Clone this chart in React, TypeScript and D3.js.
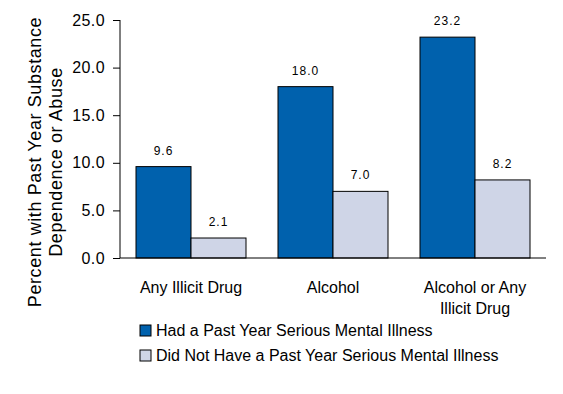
import { useRef, useEffect } from 'react';
import * as d3 from 'd3';

const categories = ['Any Illicit Drug', 'Alcohol', 'Alcohol or Any Illicit Drug'];
const categoryLines = [['Any Illicit Drug'], ['Alcohol'], ['Alcohol or Any', 'Illicit Drug']];
const seriesNames = ['Had a Past Year Serious Mental Illness', 'Did Not Have a Past Year Serious Mental Illness'];
const withSMI = [9.6, 18.0, 23.2];
const withoutSMI = [2.1, 7.0, 8.2];
const yTicks = [0, 5, 10, 15, 20, 25];
const colors = ['#0061AD', '#CFD5E7'];

export default function App() {
  const svgRef = useRef<SVGSVGElement | null>(null);

  useEffect(() => {
    const width = 563, height = 394;
    const margin = { top: 20, right: 17, bottom: 136, left: 120 };
    const innerWidth = width - margin.left - margin.right;
    const innerHeight = height - margin.top - margin.bottom;
    const font = 'Arial, "Liberation Sans", sans-serif';

    d3.select(svgRef.current).selectAll('*').remove();
    const svg = d3.select(svgRef.current)
      .attr('width', width)
      .attr('height', height)
      .style('display', 'block')
      .style('position', 'absolute')
      .style('left', '0px')
      .style('top', '0px')
      .style('background', '#fff');

    const g = svg.append('g')
      .attr('transform', `translate(${margin.left},${margin.top})`);

    const x0 = d3.scaleBand<string>().domain(categories).range([0, innerWidth]);
    const x1 = d3.scaleBand<string>().domain(['a', 'b']).range([16, x0.bandwidth() - 16]);
    const y = d3.scaleLinear().domain([0, 25]).range([innerHeight, 0]);

    // bars + value labels
    const series = [withSMI, withoutSMI];
    categories.forEach((c, i) => {
      series.forEach((vals, j) => {
        const bx = (x0(c) || 0) + (x1(j === 0 ? 'a' : 'b') || 0);
        const bw = x1.bandwidth();
        g.append('rect')
          .attr('x', bx)
          .attr('y', y(vals[i]))
          .attr('width', bw)
          .attr('height', innerHeight - y(vals[i]))
          .attr('fill', colors[j])
          .attr('stroke', '#000')
          .attr('stroke-width', 1);
        g.append('text')
          .attr('x', bx + bw / 2)
          .attr('y', y(vals[i]) - 12)
          .attr('text-anchor', 'middle')
          .style('font-family', font)
          .style('font-size', '12px')
          .style('letter-spacing', '1px')
          .text(vals[i].toFixed(1));
      });
    });

    // y axis
    const yAxis = d3.axisLeft(y).tickValues(yTicks).tickFormat(d => (+d).toFixed(1)).tickSize(7).tickPadding(8);
    const ya = g.append('g').call(yAxis);
    ya.selectAll('text').style('font-family', font).style('font-size', '16px').style('letter-spacing', '0.4px').attr('fill', '#000');
    ya.selectAll('line').attr('stroke', '#000');
    ya.select('.domain').attr('stroke', '#000').attr('d', `M0,0V${innerHeight}`);

    // x axis line (no ticks)
    g.append('line')
      .attr('x1', 0).attr('x2', innerWidth)
      .attr('y1', innerHeight).attr('y2', innerHeight)
      .attr('stroke', '#000');

    // category labels
    categories.forEach((c, i) => {
      categoryLines[i].forEach((line, k) => {
        g.append('text')
          .attr('x', (x0(c) || 0) + x0.bandwidth() / 2)
          .attr('y', innerHeight + 35 + k * 21)
          .attr('text-anchor', 'middle')
          .style('font-family', font)
          .style('font-size', '16px')
          .text(line);
      });
    });

    // y title
    const title = ['Percent with Past Year Substance', 'Dependence or Abuse'];
    title.forEach((t, k) => {
      svg.append('text')
        .attr('transform', `translate(${41 + k * 21},162) rotate(-90)`)
        .attr('text-anchor', 'middle')
        .style('font-family', font)
        .style('font-size', '18px')
        .style('letter-spacing', '0.6px')
        .text(t);
    });

    // legend
    seriesNames.forEach((name, j) => {
      const ly = 325 + j * 25;
      svg.append('rect')
        .attr('x', 140).attr('y', ly)
        .attr('width', 11).attr('height', 11)
        .attr('fill', colors[j])
        .attr('stroke', '#000');
      svg.append('text')
        .attr('x', 156).attr('y', ly + 11)
        .style('font-family', font)
        .style('font-size', '16px')
        .text(name);
    });
  }, []);

  return <svg ref={svgRef}></svg>;
}
